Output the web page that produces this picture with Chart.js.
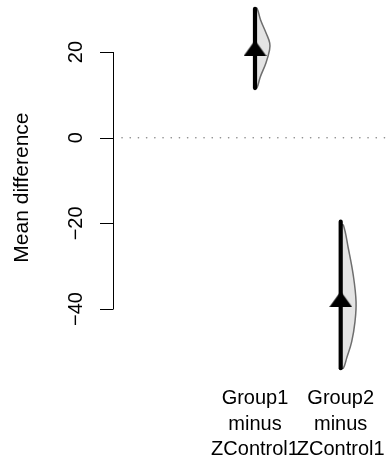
<!DOCTYPE html>
<html>
<head>
<meta charset="utf-8">
<script src="https://cdn.jsdelivr.net/npm/chart.js@4.4.0/dist/chart.umd.min.js"></script>
<style>
  html, body { margin: 0; padding: 0; background: #fff; }
</style>
</head>
<body>
<canvas id="chart" width="388" height="465"></canvas>
<script>
// --- data ---
const groupLabels = [['Group1', 'minus', 'ZControl1'], ['Group2', 'minus', 'ZControl1']];
const groupPos = [1, 2];
const meanDiff = [20.9, -37.7];
const ciLow = [11.6, -53.8];
const ciHigh = [30.1, -19.6];
const yTicks = [20, 0, -20, -40];

// half-violin outlines (value, relative density)
const g1DensY = [30.2, 27.5, 24.4, 22.1, 20.5, 17.4, 14.2, 11.6];
const g1Dens  = [0.13, 0.36, 0.72, 0.95, 0.94, 0.7, 0.34, 0.12];
const g2DensY = [-20.4, -25.8, -32.1, -38.3, -43.0, -47.6, -51.4, -53.8];
const g2Dens  = [0.17, 0.49, 0.81, 0.99, 0.92, 0.71, 0.39, 0.17];

const FONT = "20px 'Liberation Sans', Arial, sans-serif";
const violinWidth = 0.181;

function violinPoints(pos, ys, ds) {
    return ys.map((y, i) => ({ x: pos + ds[i] * violinWidth, y: y }));
}

// triangle marker (R pch 17 look)
const tri = document.createElement('canvas');
tri.width = 23; tri.height = 16;
(function() {
    const c = tri.getContext('2d');
    c.fillStyle = '#000';
    c.beginPath();
    c.moveTo(11.5, 0); c.lineTo(23, 16); c.lineTo(0, 16); c.closePath();
    c.fill();
})();

const rAxes = {
    id: 'rAxes',
    beforeDatasetsDraw(chart) {
        const ctx = chart.ctx, y = chart.scales.y, a = chart.chartArea;
        const y0 = y.getPixelForValue(0);
        ctx.save();
        ctx.strokeStyle = '#8a8a8a';
        ctx.lineWidth = 1.6;
        ctx.lineCap = 'round';
        ctx.setLineDash([0.1, 8.1]);
        ctx.beginPath();
        ctx.moveTo(a.left, y0);
        ctx.lineTo(a.right, y0);
        ctx.stroke();
        ctx.restore();
    },
    afterDraw(chart) {
        const ctx = chart.ctx, y = chart.scales.y, x = chart.scales.x;
        const ax = chart.chartArea.left - 9;
        ctx.save();
        ctx.strokeStyle = '#000';
        ctx.lineWidth = 1;
        ctx.beginPath();
        ctx.moveTo(ax + 0.5, y.getPixelForValue(yTicks[0]));
        ctx.lineTo(ax + 0.5, y.getPixelForValue(yTicks[yTicks.length - 1]));
        yTicks.forEach(t => {
            const py = Math.round(y.getPixelForValue(t)) + 0.5;
            ctx.moveTo(ax + 0.5, py);
            ctx.lineTo(ax - 13, py);
        });
        ctx.stroke();

        ctx.fillStyle = '#000';
        ctx.font = FONT;
        ctx.textAlign = 'center';
        ctx.textBaseline = 'alphabetic';
        yTicks.forEach(t => {
            ctx.save();
            ctx.translate(82, y.getPixelForValue(t));
            ctx.rotate(-Math.PI / 2);
            ctx.fillText(String(t).replace('-', '\u2212'), 0, 0);
            ctx.restore();
        });
        ctx.save();
        ctx.font = "21px 'Liberation Sans', Arial, sans-serif";
        ctx.translate(28, (y.getPixelForValue(yTicks[0]) + y.getPixelForValue(yTicks[3])) / 2 + 7);
        ctx.rotate(-Math.PI / 2);
        ctx.fillText('Mean difference', 0, 0);
        ctx.restore();

        const baselines = [404, 429.5, 455];
        groupLabels.forEach((lines, i) => {
            const px = x.getPixelForValue(groupPos[i]);
            lines.forEach((l, j) => ctx.fillText(l, px, baselines[j]));
        });
        ctx.restore();
    }
};

const datasets = [];
groupPos.forEach((p, i) => {
    datasets.push({
        data: [{ x: p, y: meanDiff[i] }],
        pointStyle: tri, pointRadius: 8, showLine: false, order: 0
    });
    datasets.push({
        data: [{ x: p, y: ciLow[i] }, { x: p, y: ciHigh[i] }],
        showLine: true, borderColor: '#000', borderWidth: 4.2,
        borderCapStyle: 'round', pointRadius: 0, order: 1
    });
});
datasets.push({
    data: [{ x: 1, y: g1DensY[0] }].concat(violinPoints(1, g1DensY, g1Dens), [{ x: 1, y: g1DensY[g1DensY.length - 1] }]),
    showLine: true, fill: 'shape', backgroundColor: '#e4e4e4', borderColor: '#6e6e6e',
    borderWidth: 1.5, tension: 0.4, pointRadius: 0, order: 2
});
datasets.push({
    data: [{ x: 2, y: g2DensY[0] }].concat(violinPoints(2, g2DensY, g2Dens), [{ x: 2, y: g2DensY[g2DensY.length - 1] }]),
    showLine: true, fill: 'shape', backgroundColor: '#e4e4e4', borderColor: '#6e6e6e',
    borderWidth: 1.5, tension: 0.4, pointRadius: 0, order: 2
});
datasets.forEach(d => { d.clip = false; });

new Chart(document.getElementById('chart').getContext('2d'), {
    type: 'scatter',
    data: { datasets: datasets },
    options: {
        responsive: false,
        animation: false,
        layout: { autoPadding: false, padding: { left: 122, right: 0, top: 0.64, bottom: 87.4 } },
        scales: {
            x: { type: 'linear', min: -0.552, max: 2.552, display: false },
            y: { min: -56, max: 32, display: false }
        },
        plugins: { legend: { display: false }, tooltip: { enabled: false } }
    },
    plugins: [rAxes]
});
</script>
</body>
</html>
